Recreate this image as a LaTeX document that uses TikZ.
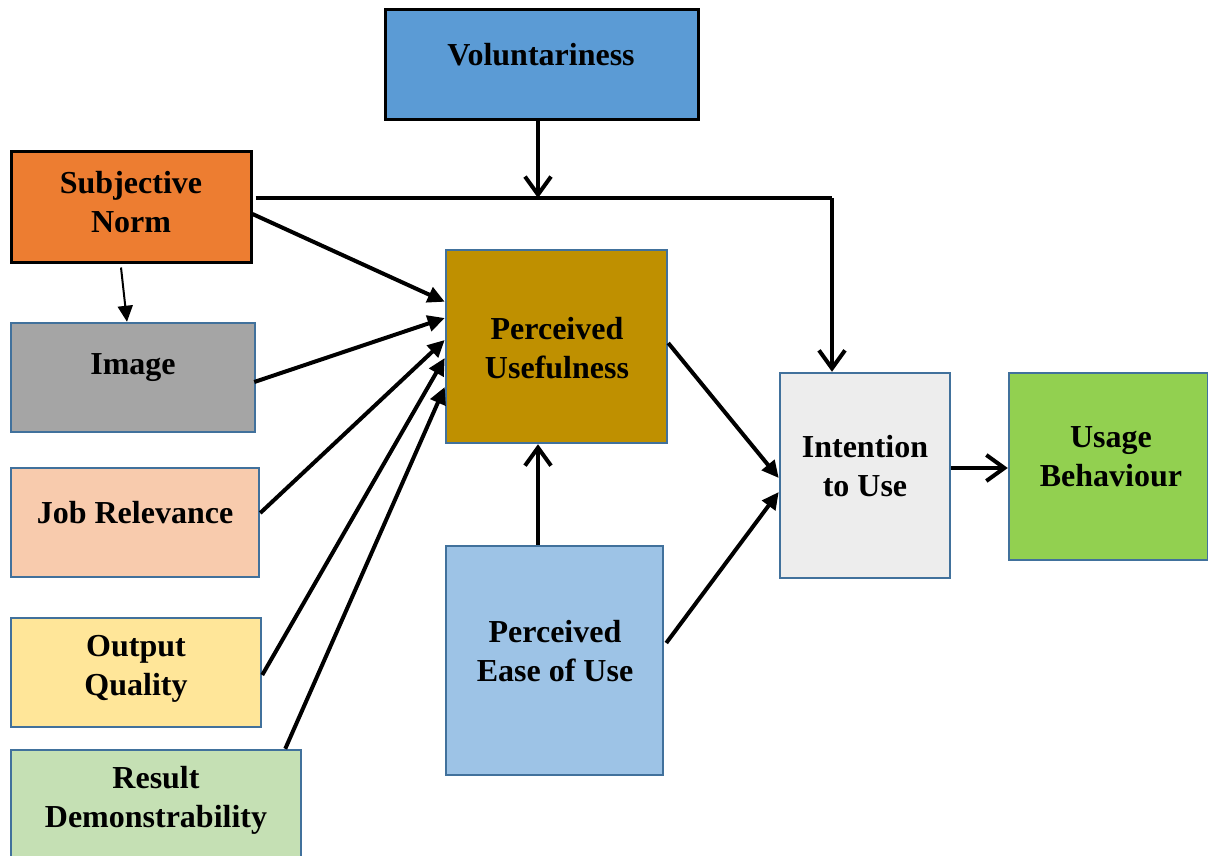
\documentclass[tikz,border=0pt]{standalone}
\usepackage{fontspec}
\setmainfont{Liberation Serif}
\usetikzlibrary{arrows.meta}
\definecolor{cvol}{HTML}{5B9BD5}
\definecolor{csn}{HTML}{ED7D31}
\definecolor{cimg}{HTML}{A5A5A5}
\definecolor{cjr}{HTML}{F8CBAD}
\definecolor{coq}{HTML}{FFE699}
\definecolor{crd}{HTML}{C5E0B4}
\definecolor{cpu}{HTML}{BF9000}
\definecolor{cpeou}{HTML}{9DC3E6}
\definecolor{cint}{HTML}{EDEDED}
\definecolor{cuse}{HTML}{92D050}
\definecolor{cbord}{HTML}{41719C}
\tikzset{
  box/.style={draw=cbord, line width=2.5pt, inner sep=0pt, rectangle},
  darkbox/.style={draw=black, line width=3pt, inner sep=0pt, rectangle},
  lbl/.style={font=\fontsize{32pt}{39pt}\selectfont\bfseries, align=center, inner sep=0pt},
  openarr/.style={line width=4pt, -{Straight Barb[length=18pt,width=26pt,line width=4pt]}},
  fillarr/.style={line width=4pt, -{Triangle[length=17pt,width=16pt]}},
  thinarr/.style={line width=2pt, -{Triangle[length=16pt,width=15pt]}},
  plain/.style={line width=4pt}
}
\begin{document}
\begin{tikzpicture}[x=1pt,y=-1pt]
\useasboundingbox (0,0) rectangle (1208,856);
% boxes
\node[darkbox, fill=cvol, minimum width=313pt, minimum height=110pt] (vol) at (541.5,65) {};
\node[darkbox, fill=csn, minimum width=240pt, minimum height=110pt] (sn) at (131,207) {};
\node[box, fill=cimg, minimum width=244pt, minimum height=109pt] (img) at (133,377.5) {};
\node[box, fill=cjr, minimum width=248pt, minimum height=109pt] (jr) at (135,522.5) {};
\node[box, fill=coq, minimum width=250pt, minimum height=109pt] (oq) at (136,672.5) {};
\node[box, fill=crd, minimum width=290pt, minimum height=120pt] (rd) at (156,810) {};
\node[box, fill=cpu, minimum width=221pt, minimum height=193pt] (pu) at (556.5,346.5) {};
\node[box, fill=cpeou, minimum width=217pt, minimum height=229pt] (peou) at (554.5,660.5) {};
\node[box, fill=cint, minimum width=170pt, minimum height=205pt] (int) at (865,475.5) {};
\node[box, fill=cuse, minimum width=199pt, minimum height=187pt] (use) at (1108.5,466.5) {};
% labels
\node[lbl] (tvol) at (541,55) {Voluntariness};
\node[lbl] (tsn) at (131,202) {Subjective\\Norm};
\node[lbl] (timg) at (133,368) {Image};
\node[lbl] (tjr) at (135,513) {Job Relevance};
\node[lbl] (toq) at (136,669) {Output\\Quality};
\node[lbl] (trd) at (156,800) {Result\\Demonstrability};
\node[lbl] (tpu) at (557,348) {Perceived\\Usefulness};
\node[lbl] (tpeou) at (555,651) {Perceived\\Ease of Use};
\node[lbl] (tint) at (865,466) {Intention\\to Use};
\node[lbl] (tuse) at (1111,457) {Usage\\Behaviour};
% connectors
\coordinate (turn) at (832,198);
\draw[plain] ([xshift=3pt,yshift=9pt]sn.east) -- (turn);
\draw[openarr] (turn) -- (int.north -| turn);
\draw[openarr] ([xshift=-3.5pt]vol.south) -- ([xshift=-3.5pt]vol.south |- turn);
\draw[fillarr] ([yshift=-7pt]sn.east) -- ([yshift=-53pt]pu.north west);
\draw[thinarr] ([xshift=-10pt,yshift=-4pt]sn.south) -- ([xshift=-6pt]img.north);
\draw[fillarr] ([xshift=-2pt,yshift=-4.5pt]img.east) -- ([yshift=28.5pt]pu.west);
\draw[fillarr] ([yshift=9.5pt]jr.east) -- ([yshift=6.5pt]pu.west);
\draw[fillarr] ([yshift=-2.5pt]oq.east) -- ([yshift=-11.5pt]pu.west);
\draw[fillarr] ([xshift=-17pt]rd.north east) -- ([yshift=-40.5pt]pu.west);
\draw[openarr] ([xshift=-16.5pt]peou.north) -- ([xshift=-16.5pt]peou.north |- pu.south);
\draw[fillarr] ([yshift=3.5pt]pu.east) -- ([yshift=-2.5pt]int.west);
\draw[fillarr] ([xshift=2pt,yshift=17.5pt]peou.east) -- ([yshift=-16.5pt]int.west);
\draw[openarr] ([yshift=7.5pt]int.east) -- ([yshift=-1.5pt]use.west);
\end{tikzpicture}
\end{document}
